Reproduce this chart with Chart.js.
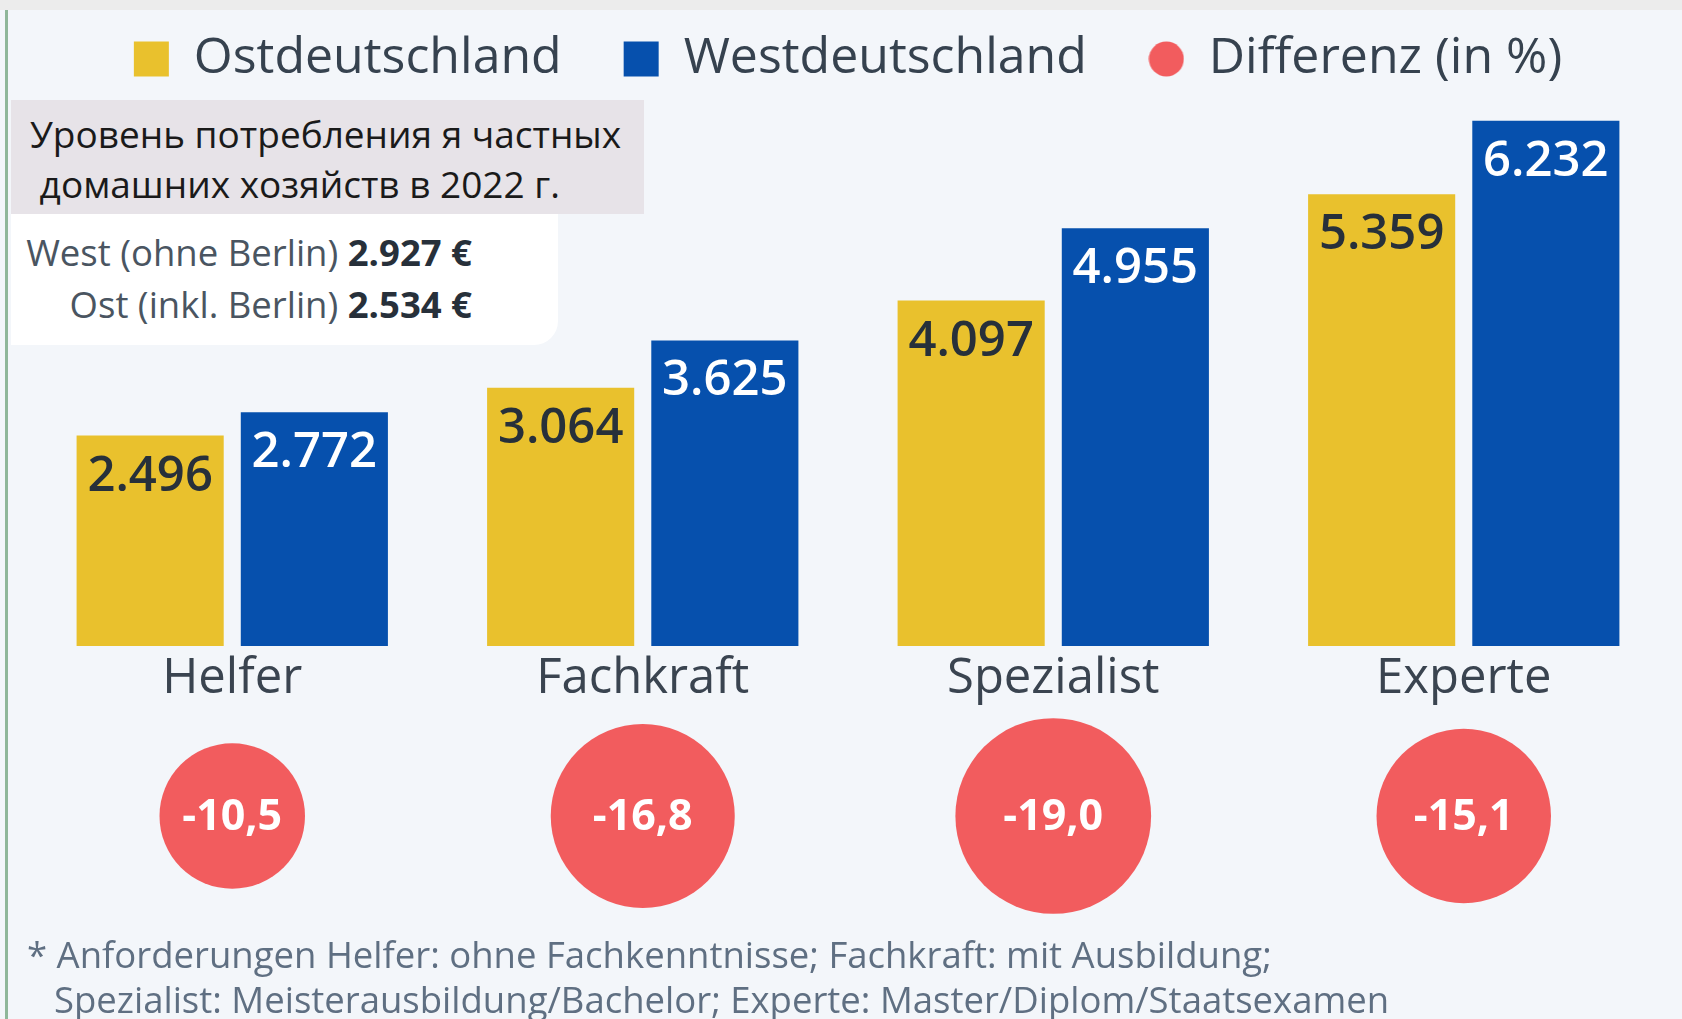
<!DOCTYPE html>
<html lang="de">
<head>
<meta charset="UTF-8">
<title>Ost vs. West</title>
<style>
  body {
    margin: 0;
    width: 1682px;
    height: 1019px;
    overflow: hidden;
    background: #f3f6fa;
    font-family: 'Open Sans', sans-serif;
    position: relative;
  }
  .topstrip { position: absolute; left: 0; top: 0; width: 1682px; height: 10px; background: #ececec; }
  .leftline { position: absolute; left: 5px; top: 10px; width: 3px; height: 1009px; background: #8fb79a; }
  #chart { position: absolute; left: 0; top: 0; }
  .title-box {
    position: absolute; left: 11px; top: 100px; width: 614px; height: 105px;
    background: #e7e3e8; padding: 9px 0 0 19px;
    font-size: 37px; line-height: 50px; color: #1a1a1a; white-space: pre;
  }
  .avg-box {
    position: absolute; left: 11px; top: 214px; width: 461px; height: 119px;
    background: #ffffff; border-bottom-right-radius: 24px;
    padding: 12px 86px 0 0; text-align: right;
    font-size: 36.5px; line-height: 52px; color: #4a5561; white-space: nowrap;
  }
  .avg-box b { color: #27303a; }
  .note {
    position: absolute; left: 27px; top: 932px; width: 1600px;
    padding-left: 27px; text-indent: -27px; white-space: nowrap;
    font-size: 36.5px; line-height: 45px; color: #5f6f82;
  }
</style>
</head>
<body>
<div class="topstrip"></div>
<div class="leftline"></div>
<canvas id="chart" width="1682" height="1019"></canvas>
<div class="title-box">Уровень потребления я частных
 домашних хозяйств в 2022 г.</div>
<div class="avg-box">West (ohne Berlin) <b>2.927 €</b><br>Ost (inkl. Berlin) <b>2.534 €</b></div>
<div class="note">* Anforderungen Helfer: ohne Fachkenntnisse; Fachkraft: mit Ausbildung;<br>Spezialist: Meisterausbildung/Bachelor; Experte: Master/Diplom/Staatsexamen</div>

<script src="https://cdn.jsdelivr.net/npm/chart.js@4.4.1/dist/chart.umd.min.js"></script>
<script>
const categories = ['Helfer', 'Fachkraft', 'Spezialist', 'Experte'];
const ost = [2496, 3064, 4097, 5359];
const west = [2772, 3625, 4955, 6232];
const differenz = [-10.5, -16.8, -19.0, -15.1];

const YELLOW = '#e9c12d';
const BLUE = '#0650ad';
const RED = '#f25c5e';

// bubble area proportional to the difference
const bubbleScale = 22.45;

const fmtThousands = v => String(v).replace(/\B(?=(\d{3})+(?!\d))/g, '.');
const fmtDecimal = v => v.toFixed(1).replace('.', ',');

// legend dot for the bubble series, same size as the squares
const dot = document.createElement('canvas');
dot.width = 36; dot.height = 36;
const dctx = dot.getContext('2d');
dctx.fillStyle = RED;
dctx.beginPath(); dctx.arc(18, 18, 17.5, 0, Math.PI * 2); dctx.fill();

const valueLabels = {
  id: 'valueLabels',
  afterDatasetsDraw(chart) {
    const ctx = chart.ctx;
    ctx.save();
    ctx.textAlign = 'center';
    ctx.textBaseline = 'middle';
    chart.data.datasets.forEach((ds, i) => {
      const meta = chart.getDatasetMeta(i);
      meta.data.forEach((el, j) => {
        if (ds.type === 'bubble') {
          ctx.font = 'bold 43px "Open Sans"';
          ctx.fillStyle = '#ffffff';
          ctx.fillText(fmtDecimal(differenz[j]), el.x, el.y + 2);
        } else {
          ctx.font = '600 49px "Open Sans"';
          ctx.fillStyle = i === 0 ? '#27303a' : '#ffffff';
          ctx.fillText(fmtThousands(ds.data[j]), el.x, el.y + 41);
        }
      });
    });
    ctx.restore();
  }
};

new Chart(document.getElementById('chart'), {
  type: 'bar',
  data: {
    labels: categories,
    datasets: [
      { label: 'Ostdeutschland', data: ost, backgroundColor: YELLOW, yAxisID: 'y',
        categoryPercentage: 0.8, barPercentage: 0.896 },
      { label: 'Westdeutschland', data: west, backgroundColor: BLUE, yAxisID: 'y',
        categoryPercentage: 0.8, barPercentage: 0.896 },
      { type: 'bubble', label: 'Differenz (in %)', yAxisID: 'yD', backgroundColor: RED,
        borderWidth: 0, hoverRadius: 0,
        data: differenz.map((v, i) => ({ x: categories[i], y: 'Differenz', r: bubbleScale * Math.sqrt(Math.abs(v)) })) }
    ]
  },
  options: {
    responsive: false,
    animation: false,
    layout: { autoPadding: false, padding: { left: 27, right: 13, top: -28, bottom: 33 } },
    plugins: {
      tooltip: { enabled: false },
      legend: {
        labels: {
          font: { family: 'Open Sans', size: 50 },
          color: '#36424f',
          usePointStyle: true,
          boxWidth: 35,
          boxHeight: 35,
          padding: 62,
          generateLabels(chart) {
            const items = Chart.defaults.plugins.legend.labels.generateLabels(chart);
            items.forEach(it => { it.pointStyle = it.datasetIndex === 2 ? dot : 'rect'; });
            return items;
          }
        }
      }
    },
    scales: {
      x: {
        type: 'category',
        position: { y: 0 },
        grid: { display: false, drawTicks: false },
        border: { display: false },
        ticks: { font: { family: 'Open Sans', size: 49 }, color: '#3a4450', padding: 4 }
      },
      yD: {
        type: 'category',
        labels: ['Differenz'],
        offset: true,
        display: false,
        stack: 'main',
        stackWeight: 340
      },
      y: {
        min: 0,
        max: 6548,
        display: false,
        stack: 'main',
        stackWeight: 552
      }
    }
  },
  plugins: [valueLabels]
});
</script>
</body>
</html>
